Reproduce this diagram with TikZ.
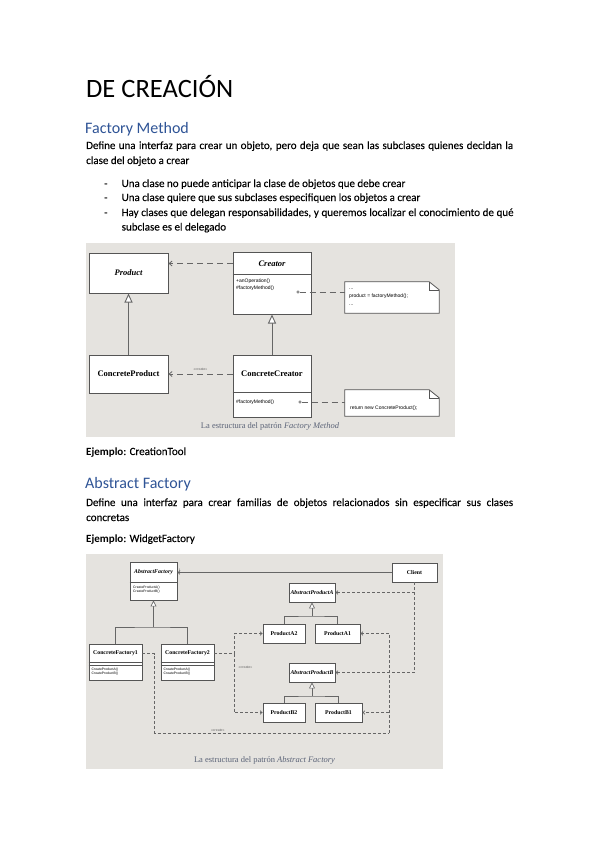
\documentclass[tikz,border=0pt]{standalone}
\usepackage{fontspec}
\setmainfont{Carlito}[UprightFeatures={FakeBold=0.15}]
\newfontfamily\headfont{Carlito}
\newfontfamily\umlserif{Liberation Serif}
\newfontfamily\umlsans{Liberation Sans}
\usetikzlibrary{arrows.meta}
\definecolor{hblue}{HTML}{2F5496}
\definecolor{diagbg}{HTML}{E5E3DF}
\definecolor{boxline}{HTML}{555555}
\definecolor{conn}{HTML}{666666}
\definecolor{capcol}{HTML}{5C6478}
\begin{document}
\begin{tikzpicture}[x=1pt,y=-1pt,
  txt/.style={anchor=base west,inner sep=0pt,font=\fontsize{11}{13}\selectfont},
  cls/.style={draw=boxline,fill=white,line width=1pt,inner sep=0pt},
  fmname/.style={inner sep=0pt,font=\umlserif\bfseries\fontsize{8.5}{10}\selectfont},
  fmops/.style={inner sep=0pt,align=left,font=\umlsans\fontsize{5}{7}\selectfont},
  afname/.style={inner sep=0pt,font=\umlserif\bfseries\fontsize{5.8}{6.5}\selectfont},
  afiname/.style={inner sep=0pt,font=\umlserif\bfseries\itshape\fontsize{5.8}{6.5}\selectfont},
  afops/.style={inner sep=0pt,align=left,font=\umlsans\fontsize{3.4}{4.6}\selectfont},
  tiny/.style={inner sep=0.5pt,font=\umlsans\fontsize{3.5}{4}\selectfont,text=conn},
  fmdash/.style={draw=conn,line width=0.8pt,dash pattern=on 6pt off 4pt},
  fmdep/.style={fmdash,-{Straight Barb[length=3pt,width=5pt]}},
  fminh/.style={draw=conn,line width=0.9pt,-{Triangle[length=9pt,width=8pt,fill=white]}},
  afline/.style={draw=conn,line width=0.7pt},
  afdash/.style={draw=conn,line width=0.7pt,dash pattern=on 3pt off 2pt},
  afdep/.style={afdash,-{Straight Barb[length=2pt,width=3.5pt]}},
  afinh/.style={afline,-{Triangle[length=6pt,width=6pt,fill=white]}},
  notebox/.style={inner sep=0pt},
  captxt/.style={inner sep=0pt,font=\umlserif\fontsize{8.5}{10}\selectfont,text=capcol}
]
\useasboundingbox[fill=white] (0,0) rectangle (599,848);

% ---------- text ----------
\node[txt,font=\headfont\fontsize{26.5}{30}\selectfont] (title) at (86,98) {DE CREACIÓN};
\node[txt,font=\headfont\fontsize{16}{19}\selectfont,text=hblue] (h1) at (85,133) {Factory Method};
\node[txt] (p1a) at (86,149) {\makebox[427pt][s]{Define una interfaz para crear un objeto, pero deja que sean las subclases quienes decidan la}};
\node[txt] (p1b) at (86,164) {clase del objeto a crear};
\node[txt] (d1) at (104,187) {-};
\node[txt] (b1) at (121.5,187) {Una clase no puede anticipar la clase de objetos que debe crear};
\node[txt] (d2) at (104,201) {-};
\node[txt] (b2) at (121.5,201) {Una clase quiere que sus subclases especifiquen los objetos a crear};
\node[txt] (d3) at (104,216) {-};
\node[txt] (b3a) at (121.5,216) {\makebox[392pt][s]{Hay clases que delegan responsabilidades, y queremos localizar el conocimiento de qué}};
\node[txt] (b3b) at (121.5,230.5) {subclase es el delegado};
\node[txt] (ej1) at (86,455) {\textbf{Ejemplo}: CreationTool};
\node[txt,font=\headfont\fontsize{16}{19}\selectfont,text=hblue] (h2) at (85,488) {Abstract Factory};
\node[txt] (p2a) at (86,506) {\makebox[427pt][s]{Define una interfaz para crear familias de objetos relacionados sin especificar sus clases}};
\node[txt] (p2b) at (86,521) {concretas};
\node[txt] (ej2) at (86,542) {\textbf{Ejemplo}: WidgetFactory};

% ---------- Factory Method diagram ----------
\fill[diagbg] (86,243) rectangle (455,437);

\node[cls,minimum width=79pt,minimum height=40pt] (product) at (128.5,273) {};
\node[fmname] (productname) at (product.center) {\itshape Product};
\node[cls,minimum width=78pt,minimum height=62pt] (creator) at (272,283) {};
\node[fmname] (creatorname) at (272,263.5) {\itshape Creator};
\draw[draw=boxline,line width=0.8pt] (creator.north west) ++(0,23) -- ++(78,0);
\node[fmops,anchor=north west] (creatorops) at (236,279) {+anOperation()\\\#factoryMethod()};

\node[cls,minimum width=79pt,minimum height=38pt] (cproduct) at (128.5,374) {};
\node[fmname] (cproductname) at (cproduct.center) {ConcreteProduct};
\node[cls,minimum width=78pt,minimum height=62pt] (ccreator) at (272,386) {};
\node[fmname] (ccreatorname) at (272,374) {ConcreteCreator};
\draw[draw=boxline,line width=0.8pt] (ccreator.north west) ++(0,38) -- ++(78,0);
\node[fmops,anchor=west] (ccreatorops) at (236,402) {\#factoryMethod()};

% notes
\node[notebox,minimum width=94pt,minimum height=31pt] (note1) at (392,297.5) {};
\draw[draw=boxline,fill=white,line width=0.8pt] (note1.south west) -- (note1.north west) -- ([xshift=-10pt]note1.north east) -- ([yshift=-8pt]note1.north east) -- (note1.south east) -- cycle;
\draw[draw=boxline,line width=0.6pt] ([xshift=-10pt]note1.north east) |- ([yshift=-8pt]note1.north east);
\node[fmops,anchor=west] (note1text) at (349,297) {...\\[1pt]product = factoryMethod();\\[1pt]...};

\node[notebox,minimum width=94pt,minimum height=26pt] (note2) at (392,403) {};
\draw[draw=boxline,fill=white,line width=0.8pt] (note2.south west) -- (note2.north west) -- ([xshift=-10pt]note2.north east) -- ([yshift=-8pt]note2.north east) -- (note2.south east) -- cycle;
\draw[draw=boxline,line width=0.6pt] ([xshift=-10pt]note2.north east) |- ([yshift=-8pt]note2.north east);
\node[fmops,anchor=west] (note2text) at (350,408) {return new ConcreteProduct();};

% connectors
\draw[fmdep] (creatorname -| creator.west) -- (creatorname -| product.east);
\draw[fmdep] (ccreatorname -| ccreator.west) -- (ccreatorname -| cproduct.east)
  node[tiny,midway,above=3pt] {«create»};
\draw[fminh] (cproduct.north) -- (product.south);
\draw[fminh] (ccreator.north) -- (creator.south);
\node[circle,draw=conn,line width=0.6pt,minimum size=2.6pt,inner sep=0pt] (c1) at (298,292) {};
\draw[fmdash] (c1.east) -- (c1 -| note1.west);
\node[circle,draw=conn,line width=0.6pt,minimum size=2.6pt,inner sep=0pt] (c2) at (300,402) {};
\draw[fmdash] (c2.east) -- (c2 -| note2.west);

\node[captxt] (cap1) at (270,426) {La estructura del patrón \textit{Factory Method}};

% ---------- Abstract Factory diagram ----------
\fill[diagbg] (86,554) rectangle (443,769);

\node[cls,line width=0.9pt,minimum width=47pt,minimum height=38pt] (af) at (153.5,581) {};
\node[afiname] (afn) at (153.5,572.5) {AbstractFactory};
\draw[draw=boxline,line width=0.6pt] (af.north west) ++(0,21) -- ++(47,0);
\node[afops,anchor=north west] (afo) at (133,585.5) {CreateProductA()\\CreateProductB()};

\node[cls,line width=0.9pt,minimum width=45pt,minimum height=19pt] (client) at (414.5,572.5) {};
\node[afname] (clientn) at (client.center) {Client};

\node[cls,line width=0.9pt,minimum width=46pt,minimum height=19pt] (apa) at (312,592.5) {};
\node[afiname] (apan) at (apa.center) {AbstractProductA};
\node[cls,line width=0.9pt,minimum width=42pt,minimum height=19pt] (pa2) at (284,633.5) {};
\node[afname] (pa2n) at (pa2.center) {ProductA2};
\node[cls,line width=0.9pt,minimum width=45pt,minimum height=19pt] (pa1) at (337.5,633.5) {};
\node[afname] (pa1n) at (pa1.center) {ProductA1};

\node[cls,line width=0.9pt,minimum width=46pt,minimum height=19pt] (apb) at (312,672.5) {};
\node[afiname] (apbn) at (apb.center) {AbstractProductB};
\node[cls,line width=0.9pt,minimum width=42pt,minimum height=19pt] (pb2) at (284,712.5) {};
\node[afname] (pb2n) at (pb2.center) {ProductB2};
\node[cls,line width=0.9pt,minimum width=47pt,minimum height=19pt] (pb1) at (338.5,712.5) {};
\node[afname] (pb1n) at (pb1.center) {ProductB1};

\node[cls,line width=0.9pt,minimum width=53pt,minimum height=36pt] (cf1) at (115.5,662) {};
\node[afname] (cf1n) at (115.5,653.5) {ConcreteFactory1};
\draw[draw=boxline,line width=0.5pt] (cf1.north west) ++(0,19) -- ++(53,0);
\draw[draw=boxline,line width=0.5pt] (cf1.north west) ++(0,22) -- ++(53,0);
\node[afops,anchor=north west] (cf1o) at (91.5,667.5) {CreateProductA()\\CreateProductB()};

\node[cls,line width=0.9pt,minimum width=53pt,minimum height=36pt] (cf2) at (187.5,662) {};
\node[afname] (cf2n) at (187.5,653.5) {ConcreteFactory2};
\draw[draw=boxline,line width=0.5pt] (cf2.north west) ++(0,19) -- ++(53,0);
\draw[draw=boxline,line width=0.5pt] (cf2.north west) ++(0,22) -- ++(53,0);
\node[afops,anchor=north west] (cf2o) at (163.5,667.5) {CreateProductA()\\CreateProductB()};

% inheritance trees
\coordinate (afj) at (153.5,627);
\draw[afline] (cf1.north) |- (afj) -| (cf2.north);
\draw[afinh] (afj) -- (af.south);
\coordinate (apaj) at (312,616);
\draw[afline] (pa2.north) |- (apaj) -| (pa1.north);
\draw[afinh] (apaj) -- (apa.south);
\coordinate (apbj) at (312,696);
\draw[afline] (pb2.north) |- (apbj) -| (pb1.north);
\draw[afinh] (apbj) -- (apb.south);

% association client -> abstract factory
\draw[afline,-{Straight Barb[length=2pt,width=3.5pt]}] (client.west) -- (afn -| af.east)
  node[tiny,at end,above right=0.5pt] {1};

% client dependencies
\draw[afdep] (client.south) |- (apb.east);
\draw[afdep] (client.south |- apa.east) -- (apa.east);

% concrete factory 2 creates A2, B2
\coordinate (k2) at (234,653.5);
\draw[afdash] (cf2n -| cf2.east) -- (k2);
\draw[afdep] (k2) |- (pa2.west);
\draw[afdep] (k2) |- (pb2.west);
\node[tiny,anchor=west] (create2) at (238,667) {«create»};

% concrete factory 1 creates A1, B1
\coordinate (k1a) at (154.5,653.5);
\coordinate (k1b) at (154.5,733);
\coordinate (k1c) at (389,733);
\draw[afdash] (cf1n -| cf1.east) -- (k1a) -- (k1b) -- (k1c) node[tiny,pos=0.27,above=1pt] {«create»};
\draw[afdep] (k1c) |- (pa1.east);
\draw[afdep] (k1c |- pb1.east) -- (pb1.east);

\node[captxt] (cap2) at (264.5,760) {La estructura del patrón \textit{Abstract Factory}};
\end{tikzpicture}
\end{document}
